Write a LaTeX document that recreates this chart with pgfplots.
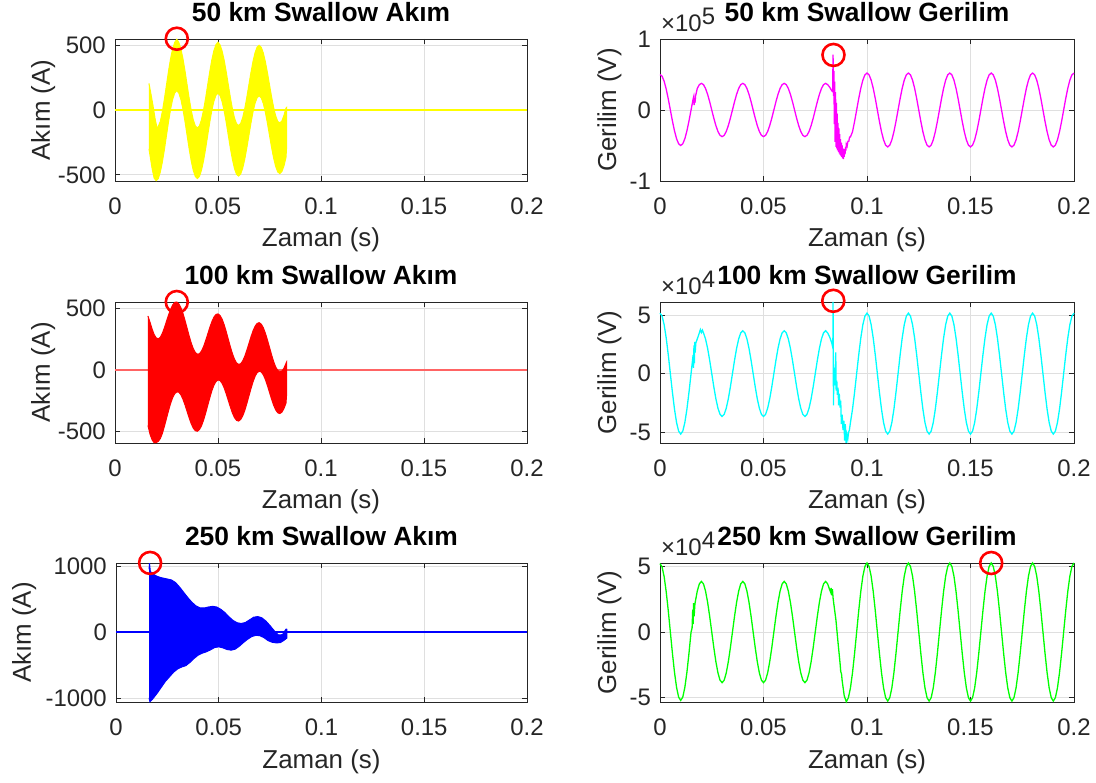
\documentclass[border=0pt]{standalone}
\usepackage{fontspec}
\setmainfont{Liberation Sans}
\usepackage{pgfplots}
\pgfplotsset{compat=1.18}
\definecolor{mY}{RGB}{255,255,0}
\definecolor{mM}{RGB}{255,0,255}
\definecolor{mR}{RGB}{255,0,0}
\definecolor{mRl}{RGB}{255,100,100}
\definecolor{mC}{RGB}{0,255,255}
\definecolor{mB}{RGB}{0,0,255}
\definecolor{mG}{RGB}{0,255,0}
\definecolor{mK}{RGB}{38,38,38}
\definecolor{mGrid}{RGB}{223,223,223}
\newcommand\tickfont{\fontsize{24}{28}\selectfont}
\newcommand\labfont{\fontsize{26}{30}\selectfont}
\newcommand\titfont{\fontsize{26.5}{30}\selectfont\bfseries}
\pgfplotsset{
  ml/.style={
    scale only axis, anchor=south west,
    xmin=0, xmax=0.2,
    xtick={0,0.05,0.1,0.15,0.2}, xticklabels={0,0.05,0.1,0.15,0.2},
    tick align=inside, tick pos=both, xticklabel pos=lower, yticklabel pos=left,
    major tick length=5bp,
    axis line style={draw=mK, line width=0.9bp},
    every tick/.style={draw=mK, line width=0.8bp},
    grid=major, major grid style={draw=mGrid, line width=0.8bp},
    xticklabel style={font=\tickfont, text=mK, anchor=base, inner sep=0pt, yshift=-34bp},
    yticklabel style={font=\tickfont, text=mK, anchor=east, inner sep=0pt, xshift=-9bp},
    title style={font=\titfont, text=black, at={(0.5,1)}, anchor=base, yshift=12bp},
    every axis x label/.style={at={(rel axis cs:0.5,0)}, anchor=base, yshift=-66bp, font=\labfont, text=mK},
    xlabel={Zaman (s)},
    clip=false,
  },
  ylab/.style={every axis y label/.style={at={(rel axis cs:0,0.5)}, xshift=-#1, rotate=90, anchor=base, font=\labfont, text=mK}},
  circ/.style={only marks, mark=o, mark size=11bp, mark options={draw=mR, fill=none, line width=2.6bp}},
}
\begin{document}
\begin{tikzpicture}
\useasboundingbox (0,0) rectangle (1096bp,783bp);
% ---------- 50 km current
\begin{axis}[ml, at={(115bp,602bp)}, width=412bp, height=142bp,
  ymin=-547, ymax=548, ytick={-500,0,500}, yticklabels={-500,0,500},
  title={50 km Swallow Akım}, ylabel={Akım (A)}, ylab=65bp]
\addplot[mY, line width=1.3bp] coordinates {(0,0) (0.2,0)};
\addplot[draw=mY, fill=mY, line width=1bp] coordinates {
(0.0165,205) (0.0175,120) (0.0185,30) (0.0195,-70) (0.0205,-145) (0.022,-88) (0.023,-10) (0.024,87) (0.025,195) (0.026,302) (0.027,398) (0.028,474) (0.029,522) (0.030,546) (0.031,520) (0.032,471) (0.033,395) (0.034,300) (0.035,195) (0.036,91) (0.037,-2) (0.038,-76) (0.039,-123) (0.040,-138) (0.041,-121) (0.042,-73) (0.043,1) (0.044,93) (0.045,195) (0.046,296) (0.047,387) (0.048,458) (0.049,504) (0.050,523) (0.051,502) (0.052,455) (0.053,384) (0.054,294) (0.055,195) (0.056,97) (0.057,9) (0.058,-61) (0.059,-105) (0.060,-119) (0.061,-103) (0.062,-58) (0.063,12) (0.064,99) (0.065,195) (0.066,290) (0.067,376) (0.068,443) (0.069,486) (0.070,500) (0.071,484) (0.072,440) (0.073,372) (0.074,288) (0.075,195) (0.076,103) (0.077,20) (0.078,-45) (0.079,-87) (0.080,-100) (0.081,-85) (0.082,-42) (0.083,15) (0.0833,20)
(0.0833,-290) (0.083,-367) (0.082,-432) (0.081,-475) (0.080,-490) (0.079,-477) (0.078,-435) (0.077,-370) (0.076,-287) (0.075,-195) (0.074,-102) (0.073,-18) (0.072,50) (0.071,94) (0.070,110) (0.069,96) (0.068,53) (0.067,-14) (0.066,-100) (0.065,-195) (0.064,-291) (0.063,-378) (0.062,-448) (0.061,-493) (0.060,-509) (0.059,-495) (0.058,-451) (0.057,-381) (0.056,-293) (0.055,-195) (0.054,-96) (0.053,-7) (0.052,65) (0.051,112) (0.050,130) (0.049,114) (0.048,68) (0.047,-3) (0.046,-94) (0.045,-195) (0.044,-297) (0.043,-389) (0.042,-463) (0.041,-511) (0.040,-528) (0.039,-513) (0.038,-466) (0.037,-392) (0.036,-299) (0.035,-195) (0.034,-90) (0.033,5) (0.032,81) (0.031,130) (0.030,150) (0.029,132) (0.028,84) (0.027,8) (0.026,-88) (0.025,-195) (0.024,-303) (0.023,-400) (0.022,-478) (0.021,-529) (0.020,-545) (0.019,-525) (0.018,-450) (0.0172,-370) (0.0165,-300)
};
\addplot[circ] coordinates {(0.03,550)};
\end{axis}
% ---------- 50 km voltage
\begin{axis}[ml, at={(660bp,602bp)}, width=414bp, height=142bp,
  ymin=-1, ymax=1, ytick={-1,0,1}, yticklabels={-1,0,1},
  title={50 km Swallow Gerilim}, ylabel={Gerilim (V)}, ylab=44bp]
\addplot[mM, line width=1.3bp] coordinates {
(0,.5)(.001,.476)(.002,.405)(.003,.294)(.004,.155)(.005,0)(.006,-.155)(.007,-.294)(.008,-.405)(.009,-.476)(.010,-.5)(.011,-.476)(.012,-.405)(.013,-.294)(.014,-.155)(.015,0)(.016,.155)
(.0163,.19)(.0165,.07)(.0167,.17)(.0169,.10)(.0172,.20)(.0176,.25)
(.018,.303)(.019,.357)(.020,.375)(.021,.357)(.022,.303)(.023,.220)(.024,.116)(.025,0)(.026,-.116)(.027,-.220)(.028,-.303)(.029,-.357)(.030,-.375)(.031,-.357)(.032,-.303)(.033,-.220)(.034,-.116)(.035,0)(.036,.116)(.037,.220)(.038,.303)(.039,.357)(.040,.375)(.041,.357)(.042,.303)(.043,.220)(.044,.116)(.045,0)(.046,-.116)(.047,-.220)(.048,-.303)(.049,-.357)(.050,-.375)(.051,-.357)(.052,-.303)(.053,-.220)(.054,-.116)(.055,0)(.056,.116)(.057,.220)(.058,.303)(.059,.357)(.060,.375)(.061,.357)(.062,.303)(.063,.220)(.064,.116)(.065,0)(.066,-.116)(.067,-.220)(.068,-.303)(.069,-.357)(.070,-.375)(.071,-.357)(.072,-.303)(.073,-.220)(.074,-.116)(.075,0)(.076,.116)(.077,.220)(.078,.303)(.079,.357)(.080,.375)(.081,.357)(.082,.320)(.083,.27)(.0834,.26)
(.0836,.78)(.0838,.20)(.0840,.55)(.0842,-.20)(.0844,.40)(.0846,-.45)(.0848,.25)(.0850,-.52)(.0852,.10)(.0854,-.54)(.0856,-.05)(.0858,-.57)(.0860,-.18)(.0862,-.59)(.0864,-.26)(.0866,-.61)(.0868,-.34)(.0870,-.63)(.0872,-.41)(.0874,-.65)(.0876,-.46)(.0878,-.66)(.0880,-.50)(.0882,-.68)(.0884,-.54)(.0886,-.69)(.0888,-.56)(.0890,-.66)(.0892,-.55)(.0894,-.62)(.0896,-.52)(.0898,-.57)(.0900,-.48)(.0904,-.51)(.0908,-.44)(.0912,-.44)(.0916,-.38)(.0920,-.38)
(.093,-.306)(.094,-.161)(.095,0)(.096,.161)(.097,.306)(.098,.421)(.099,.495)(.100,.52)(.101,.495)(.102,.421)(.103,.306)(.104,.161)(.105,0)(.106,-.161)(.107,-.306)(.108,-.421)(.109,-.495)(.110,-.52)(.111,-.495)(.112,-.421)(.113,-.306)(.114,-.161)(.115,0)(.116,.161)(.117,.306)(.118,.421)(.119,.495)(.120,.52)(.121,.495)(.122,.421)(.123,.306)(.124,.161)(.125,0)(.126,-.161)(.127,-.306)(.128,-.421)(.129,-.495)(.130,-.52)(.131,-.495)(.132,-.421)(.133,-.306)(.134,-.161)(.135,0)(.136,.161)(.137,.306)(.138,.421)(.139,.495)(.140,.52)(.141,.495)(.142,.421)(.143,.306)(.144,.161)(.145,0)(.146,-.161)(.147,-.306)(.148,-.421)(.149,-.495)(.150,-.52)(.151,-.495)(.152,-.421)(.153,-.306)(.154,-.161)(.155,0)(.156,.161)(.157,.306)(.158,.421)(.159,.495)(.160,.52)(.161,.495)(.162,.421)(.163,.306)(.164,.161)(.165,0)(.166,-.161)(.167,-.306)(.168,-.421)(.169,-.495)(.170,-.52)(.171,-.495)(.172,-.421)(.173,-.306)(.174,-.161)(.175,0)(.176,.161)(.177,.306)(.178,.421)(.179,.495)(.180,.52)(.181,.495)(.182,.421)(.183,.306)(.184,.161)(.185,0)(.186,-.161)(.187,-.306)(.188,-.421)(.189,-.495)(.190,-.52)(.191,-.495)(.192,-.421)(.193,-.306)(.194,-.161)(.195,0)(.196,.161)(.197,.306)(.198,.421)(.199,.495)(.200,.52)
};
\addplot[circ] coordinates {(0.0838,0.775)};
\node[anchor=base west, font=\tickfont, text=mK, inner sep=0pt, xshift=1bp, yshift=7bp] at (rel axis cs:0,1) {×10\raisebox{7bp}{5}};
\end{axis}
% ---------- 100 km current
\begin{axis}[ml, at={(115bp,340bp)}, width=412bp, height=141bp,
  ymin=-591, ymax=548, ytick={-500,0,500}, yticklabels={-500,0,500},
  title={100 km Swallow Akım}, ylabel={Akım (A)}, ylab=65bp]
\addplot[mRl, line width=1.6bp] coordinates {(0,0) (0.2,0)};
\addplot[draw=mR, fill=mR, line width=1bp] coordinates {
(0.016,435) (0.017,385) (0.018,330) (0.019,285) (0.020,258) (0.021,250) (0.022,263) (0.023,295) (0.024,341) (0.025,392) (0.026,443) (0.027,489) (0.028,524) (0.029,545) (0.030,548) (0.031,533) (0.032,502) (0.033,456) (0.034,398) (0.035,336) (0.036,274) (0.037,217) (0.038,171) (0.039,140) (0.040,126) (0.041,130) (0.042,152) (0.043,188) (0.044,236) (0.045,288) (0.046,341) (0.047,388) (0.048,425) (0.049,447) (0.050,452) (0.051,439) (0.052,409) (0.053,364) (0.054,308) (0.055,247) (0.056,186) (0.057,131) (0.058,86) (0.059,56) (0.060,44) (0.061,49) (0.062,72) (0.063,110) (0.064,158) (0.065,212) (0.066,266) (0.067,315) (0.068,352) (0.069,375) (0.070,381) (0.071,369) (0.072,340) (0.073,296) (0.074,241) (0.075,182) (0.076,122) (0.077,67) (0.078,23) (0.079,-5) (0.080,-17) (0.081,-11) (0.082,13) (0.083,52) (0.0833,62)
(0.0833,-200) (0.083,-270) (0.082,-313) (0.081,-342) (0.080,-353) (0.079,-347) (0.078,-323) (0.077,-285) (0.076,-236) (0.075,-182) (0.074,-127) (0.073,-78) (0.072,-40) (0.071,-17) (0.070,-11) (0.069,-23) (0.068,-52) (0.067,-97) (0.066,-152) (0.065,-212) (0.064,-272) (0.063,-328) (0.062,-372) (0.061,-401) (0.060,-414) (0.059,-408) (0.058,-386) (0.057,-349) (0.056,-300) (0.055,-247) (0.054,-194) (0.053,-146) (0.052,-109) (0.051,-87) (0.050,-82) (0.049,-95) (0.048,-125) (0.047,-170) (0.046,-227) (0.045,-288) (0.044,-350) (0.043,-406) (0.042,-452) (0.041,-482) (0.040,-496) (0.039,-492) (0.038,-471) (0.037,-435) (0.036,-388) (0.035,-336) (0.034,-284) (0.033,-238) (0.032,-202) (0.031,-181) (0.030,-178) (0.029,-193) (0.028,-224) (0.027,-271) (0.026,-329) (0.025,-392) (0.024,-455) (0.023,-513) (0.022,-555) (0.021,-578) (0.020,-588) (0.019,-589) (0.018,-565) (0.017,-520) (0.016,-450)
};
\addplot[circ] coordinates {(0.03,548)};
\end{axis}
% ---------- 100 km voltage
\begin{axis}[ml, at={(660bp,340bp)}, width=414bp, height=141bp,
  ymin=-5.91, ymax=6.1, ytick={-5,0,5}, yticklabels={-5,0,5},
  title={100 km Swallow Gerilim}, ylabel={Gerilim (V)}, ylab=44bp]
\addplot[mC, line width=1.3bp] coordinates {
(0,5.15)(.001,4.90)(.002,4.17)(.003,3.03)(.004,1.59)(.005,0)(.006,-1.59)(.007,-3.03)(.008,-4.17)(.009,-4.90)(.010,-5.15)(.011,-4.90)(.012,-4.17)(.013,-3.03)(.014,-1.59)(.015,0)(.016,1.59)
(.0162,0.5)(.0164,2.4)(.0166,0.9)(.0168,2.7)(.0170,1.8)(.0173,2.6)(.018,2.95)(.019,3.47)(.0195,3.75)(.0200,3.5)(.0205,3.7)(.021,3.47)
(.022,2.95)(.023,2.15)(.024,1.13)(.025,0)(.026,-1.13)(.027,-2.15)(.028,-2.95)(.029,-3.47)(.030,-3.65)(.031,-3.47)(.032,-2.95)(.033,-2.15)(.034,-1.13)(.035,0)(.036,1.13)(.037,2.15)(.038,2.95)(.039,3.47)(.040,3.65)(.041,3.47)(.042,2.95)(.043,2.15)(.044,1.13)(.045,0)(.046,-1.13)(.047,-2.15)(.048,-2.95)(.049,-3.47)(.050,-3.65)(.051,-3.47)(.052,-2.95)(.053,-2.15)(.054,-1.13)(.055,0)(.056,1.13)(.057,2.15)(.058,2.95)(.059,3.47)(.060,3.65)(.061,3.47)(.062,2.95)(.063,2.15)(.064,1.13)(.065,0)(.066,-1.13)(.067,-2.15)(.068,-2.95)(.069,-3.47)(.070,-3.65)(.071,-3.47)(.072,-2.95)(.073,-2.15)(.074,-1.13)(.075,0)(.076,1.13)(.077,2.15)(.078,2.95)(.079,3.47)(.080,3.65)(.081,3.47)(.082,3.1)(.083,2.6)(.0835,2.2)
(.0836,6.1)(.0838,-2.7)(.0840,0.5)(.0843,-1.0)(.0846,0.0)(.0849,1.8)(.0851,-1.45)(.0854,-0.6)(.0857,-1.8)(.0860,-1.2)(.0863,-2.7)(.0866,-1.7)(.0870,-2.9)(.0873,-2.3)(.0876,-4.3)(.0880,-3.5)(.0884,-4.8)(.0888,-4.0)(.0892,-5.7)(.0895,-4.3)(.0899,-5.9)(.0903,-5.2)(.0907,-5.6)(.0911,-5.0)(.0915,-4.8)
(.092,-4.17)(.093,-3.03)(.094,-1.59)(.095,0)(.096,1.59)(.097,3.03)(.098,4.17)(.099,4.90)(.100,5.15)(.101,4.90)(.102,4.17)(.103,3.03)(.104,1.59)(.105,0)(.106,-1.59)(.107,-3.03)(.108,-4.17)(.109,-4.90)(.110,-5.15)(.111,-4.90)(.112,-4.17)(.113,-3.03)(.114,-1.59)(.115,0)(.116,1.59)(.117,3.03)(.118,4.17)(.119,4.90)(.120,5.15)(.121,4.90)(.122,4.17)(.123,3.03)(.124,1.59)(.125,0)(.126,-1.59)(.127,-3.03)(.128,-4.17)(.129,-4.90)(.130,-5.15)(.131,-4.90)(.132,-4.17)(.133,-3.03)(.134,-1.59)(.135,0)(.136,1.59)(.137,3.03)(.138,4.17)(.139,4.90)(.140,5.15)(.141,4.90)(.142,4.17)(.143,3.03)(.144,1.59)(.145,0)(.146,-1.59)(.147,-3.03)(.148,-4.17)(.149,-4.90)(.150,-5.15)(.151,-4.90)(.152,-4.17)(.153,-3.03)(.154,-1.59)(.155,0)(.156,1.59)(.157,3.03)(.158,4.17)(.159,4.90)(.160,5.15)(.161,4.90)(.162,4.17)(.163,3.03)(.164,1.59)(.165,0)(.166,-1.59)(.167,-3.03)(.168,-4.17)(.169,-4.90)(.170,-5.15)(.171,-4.90)(.172,-4.17)(.173,-3.03)(.174,-1.59)(.175,0)(.176,1.59)(.177,3.03)(.178,4.17)(.179,4.90)(.180,5.15)(.181,4.90)(.182,4.17)(.183,3.03)(.184,1.59)(.185,0)(.186,-1.59)(.187,-3.03)(.188,-4.17)(.189,-4.90)(.190,-5.15)(.191,-4.90)(.192,-4.17)(.193,-3.03)(.194,-1.59)(.195,0)(.196,1.59)(.197,3.03)(.198,4.17)(.199,4.90)(.200,5.15)
};
\addplot[circ] coordinates {(0.0837,6.2)};
\node[anchor=base west, font=\tickfont, text=mK, inner sep=0pt, xshift=1bp, yshift=7bp] at (rel axis cs:0,1) {×10\raisebox{7bp}{4}};
\end{axis}
% ---------- 250 km current
\begin{axis}[ml, at={(116bp,81bp)}, width=411bp, height=139bp,
  ymin=-1062, ymax=1048, ytick={-1000,0,1000}, yticklabels={-1000,0,1000},
  title={250 km Swallow Akım}, ylabel={Akım (A)}, ylab=85bp]
\addplot[mB, line width=1.3bp] coordinates {(0,0) (0.2,0)};
\addplot[draw=mB, fill=mB, line width=1bp] coordinates {
(0.0161,950) (0.0163,1046) (0.0167,920) (0.018,880) (0.020,845) (0.022,825) (0.025,805) (0.027,790) (0.029,750) (0.031,680) (0.033,600) (0.035,520) (0.037,450) (0.039,395) (0.041,365) (0.043,365) (0.045,380) (0.047,390) (0.049,380) (0.051,345) (0.053,295) (0.055,230) (0.057,175) (0.059,140) (0.061,130) (0.063,145) (0.065,185) (0.067,225) (0.069,235) (0.071,215) (0.073,165) (0.075,95) (0.077,20) (0.079,-45) (0.081,-40) (0.082,10) (0.0828,45) (0.0832,40)
(0.0832,-90) (0.082,-120) (0.080,-160) (0.078,-165) (0.076,-155) (0.074,-130) (0.072,-85) (0.070,-55) (0.068,-50) (0.066,-70) (0.064,-110) (0.062,-160) (0.060,-215) (0.058,-260) (0.056,-275) (0.054,-265) (0.052,-240) (0.050,-225) (0.048,-235) (0.046,-270) (0.044,-300) (0.042,-320) (0.040,-350) (0.038,-400) (0.036,-460) (0.034,-510) (0.032,-530) (0.030,-560) (0.028,-610) (0.026,-680) (0.024,-750) (0.022,-840) (0.020,-930) (0.018,-1010) (0.0165,-1058) (0.0161,-1000)
};
\addplot[circ] coordinates {(0.0166,1049)};
\end{axis}
% ---------- 250 km voltage
\begin{axis}[ml, at={(660bp,81bp)}, width=414bp, height=139bp,
  ymin=-5.32, ymax=5.25, ytick={-5,0,5}, yticklabels={-5,0,5},
  title={250 km Swallow Gerilim}, ylabel={Gerilim (V)}, ylab=44bp]
\addplot[mG, line width=1.3bp] coordinates {
(0,5.2)(.001,4.95)(.002,4.21)(.003,3.06)(.004,1.61)(.005,0)(.006,-1.61)(.007,-3.06)(.008,-4.21)(.009,-4.95)(.010,-5.2)(.011,-4.95)(.012,-4.21)(.013,-3.06)(.014,-1.61)(.015,0)
(.0155,0.3)(.0158,1.7)(.0160,0.6)(.0162,2.2)(.0165,1.2)(.0168,2.0)(.017,2.26)
(.018,3.11)(.019,3.66)(.020,3.85)(.021,3.66)(.022,3.11)(.023,2.26)(.024,1.19)(.025,0)(.026,-1.19)(.027,-2.26)(.028,-3.11)(.029,-3.66)(.030,-3.85)(.031,-3.66)(.032,-3.11)(.033,-2.26)(.034,-1.19)(.035,0)(.036,1.19)(.037,2.26)(.038,3.11)(.039,3.66)(.040,3.85)(.041,3.66)(.042,3.11)(.043,2.26)(.044,1.19)(.045,0)(.046,-1.19)(.047,-2.26)(.048,-3.11)(.049,-3.66)(.050,-3.85)(.051,-3.66)(.052,-3.11)(.053,-2.26)(.054,-1.19)(.055,0)(.056,1.19)(.057,2.26)(.058,3.11)(.059,3.66)(.060,3.85)(.061,3.66)(.062,3.11)(.063,2.26)(.064,1.19)(.065,0)(.066,-1.19)(.067,-2.26)(.068,-3.11)(.069,-3.66)(.070,-3.85)(.071,-3.66)(.072,-3.11)(.073,-2.26)(.074,-1.19)(.075,0)(.076,1.19)(.077,2.26)(.078,3.11)(.079,3.66)(.080,3.85)(.081,3.66)(.082,3.2)(.0825,3.0)(.0827,3.35)(.0830,2.8)(.0833,3.25)(.0836,2.6)(.0840,2.1)
(.085,0.9)(.086,-0.8)(.087,-2.4)(.0873,-3.0)(.0877,-3.2)(.088,-3.7)(.089,-4.85)(.090,-5.3)(.091,-5.0)(.092,-4.25)(.093,-3.09)(.094,-1.62)(.095,0)(.096,1.62)(.097,3.09)(.098,4.25)(.099,4.99)(.100,5.25)(.101,4.99)(.102,4.25)(.103,3.09)(.104,1.62)(.105,0)(.106,-1.62)(.107,-3.09)(.108,-4.25)(.109,-4.99)(.110,-5.25)(.111,-4.99)(.112,-4.25)(.113,-3.09)(.114,-1.62)(.115,0)(.116,1.62)(.117,3.09)(.118,4.25)(.119,4.99)(.120,5.25)(.121,4.99)(.122,4.25)(.123,3.09)(.124,1.62)(.125,0)(.126,-1.62)(.127,-3.09)(.128,-4.25)(.129,-4.99)(.130,-5.25)(.131,-4.99)(.132,-4.25)(.133,-3.09)(.134,-1.62)(.135,0)(.136,1.62)(.137,3.09)(.138,4.25)(.139,4.99)(.140,5.25)(.141,4.99)(.142,4.25)(.143,3.09)(.144,1.62)(.145,0)(.146,-1.62)(.147,-3.09)(.148,-4.25)(.149,-4.99)(.150,-5.25)(.151,-4.99)(.152,-4.25)(.153,-3.09)(.154,-1.62)(.155,0)(.156,1.62)(.157,3.09)(.158,4.25)(.159,4.99)(.160,5.25)(.161,4.99)(.162,4.25)(.163,3.09)(.164,1.62)(.165,0)(.166,-1.62)(.167,-3.09)(.168,-4.25)(.169,-4.99)(.170,-5.25)(.171,-4.99)(.172,-4.25)(.173,-3.09)(.174,-1.62)(.175,0)(.176,1.62)(.177,3.09)(.178,4.25)(.179,4.99)(.180,5.25)(.181,4.99)(.182,4.25)(.183,3.09)(.184,1.62)(.185,0)(.186,-1.62)(.187,-3.09)(.188,-4.25)(.189,-4.99)(.190,-5.25)(.191,-4.99)(.192,-4.25)(.193,-3.09)(.194,-1.62)(.195,0)(.196,1.62)(.197,3.09)(.198,4.25)(.199,4.99)(.200,5.25)
};
\addplot[circ] coordinates {(0.16,5.25)};
\node[anchor=base west, font=\tickfont, text=mK, inner sep=0pt, xshift=1bp, yshift=7bp] at (rel axis cs:0,1) {×10\raisebox{7bp}{4}};
\end{axis}
\end{tikzpicture}
\end{document}
